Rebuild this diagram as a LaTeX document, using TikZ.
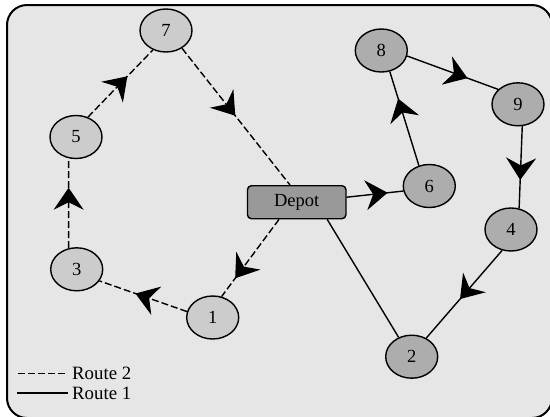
\documentclass[tikz,border=0pt]{standalone}
\usepackage{fontspec}
\setmainfont{Liberation Serif}
\usetikzlibrary{shapes.geometric,arrows.meta,decorations.markings}

\definecolor{bgc}{HTML}{E6E6E6}
\definecolor{lightn}{HTML}{CCCCCC}
\definecolor{darkn}{HTML}{ADADAD}
\definecolor{depotc}{HTML}{999999}

\begin{document}
\begin{tikzpicture}[x=1pt,y=-1pt,
  stop/.style={ellipse, draw, line width=1.4pt, minimum width=52pt, minimum height=43pt, inner sep=0pt, font=\fontsize{18.5}{22}\selectfont},
  r2/.style={stop, fill=lightn},
  r1/.style={stop, fill=darkn},
  depotbox/.style={rectangle, rounded corners=4pt, draw, line width=1.4pt, fill=depotc, minimum width=98.5pt, minimum height=33pt, inner sep=0pt, font=\fontsize{18.5}{22}\selectfont},
  route2/.style={line width=1.4pt, dash pattern=on 7pt off 3pt},
  route1/.style={line width=1.4pt},
  midarrow/.style={postaction={decorate, decoration={markings, mark=at position #1 with {\arrow[xshift=11pt]{Stealth[length=22pt,width=30pt,inset=7.5pt]}}}}},
  legtext/.style={anchor=base west, inner sep=0pt, font=\fontsize{18.8}{22}\selectfont}
]
\useasboundingbox (0,0) rectangle (550,416);
\clip (0,0) rectangle (550,416);
\draw[line width=2pt, fill=bgc, rounded corners=20pt] (7,5) rectangle (552,418);

\node[r2] (n7) at (166,30.5) {7};
\node[r2] (n5) at (76,137) {5};
\node[r2] (n3) at (76.7,269.3) {3};
\node[r2] (n1) at (212.7,317.5) {1};
\node[depotbox] (depot) at (296.7,202.2) {Depot};
\node[r1] (n6) at (429.3,186) {6};
\node[r1] (n8) at (381.3,50.5) {8};
\node[r1] (n9) at (518,104.3) {9};
\node[r1] (n4) at (511,229.5) {4};
\node[r1] (n2) at (411.7,356.7) {2};

% Route 2
\draw[route2, midarrow=0.43] (n7.312) -- ([xshift=-6.7pt]depot.north);
\draw[route2, midarrow=0.65] ([xshift=-17.7pt]depot.south) -- (n1.67);
\draw[route2, midarrow=0.47] (n1.167) -- (n3.333);
\draw[route2, midarrow=0.55] (n3.111) -- (n5.251);
\draw[route2, midarrow=0.49] (n5.59) -- (n7.236);

% Route 1
\draw[route1, midarrow=0.53] ([yshift=5pt]depot.east) -- (n6.191);
\draw[route1, midarrow=0.60] (n6.117) -- (n8.292);
\draw[route1, midarrow=0.55] (n8.348) -- (n9.143);
\draw[route1, midarrow=0.52] (n9.281) -- (n4.69);
\draw[route1, midarrow=0.46] (n4.247) -- (n2.52);
\draw[route1] ([xshift=30.5pt]depot.south) -- (n2.124);

% Legend
\coordinate (l2a) at (18,373.5);
\coordinate (l2b) at (68,373.5);
\coordinate (l1a) at (17,393.3);
\coordinate (l1b) at (68,393.3);
\draw[route2, line width=1.6pt] (l2a) -- (l2b);
\draw[route1, line width=1.8pt] (l1a) -- (l1b);
\node[legtext] (t2) at (72,379.5) {Route 2};
\node[legtext] (t1) at (72,399.3) {Route 1};
\end{tikzpicture}
\end{document}
